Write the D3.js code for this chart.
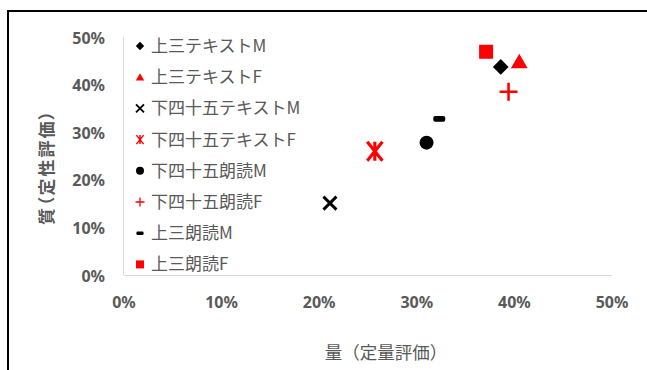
<!DOCTYPE html>
<html>
<head>
<meta charset="utf-8">
<script src="https://cdn.jsdelivr.net/npm/d3@7"></script>
<style>
  body { margin: 0; background: #fff; }
  text { font-family: "Noto Sans CJK JP", "Noto Sans", sans-serif; fill: #595959; }
</style>
</head>
<body>
<svg id="chart" width="647" height="370"></svg>
<script>
// series names (legend order)
var seriesNames = ["上三テキストM", "上三テキストF", "下四十五テキストM", "下四十五テキストF",
                   "下四十五朗読M", "下四十五朗読F", "上三朗読M", "上三朗読F"];
var seriesColors = ["#000000", "#ff0000", "#000000", "#ff0000", "#000000", "#ff0000", "#000000", "#ff0000"];
var seriesMarkers = ["diamond", "triangle", "x", "asterisk", "circle", "plus", "dash", "square"];
// quantity (x) and quality (y) values
var xValues = [0.386, 0.405, 0.211, 0.257, 0.310, 0.394, 0.323, 0.371];
var yValues = [0.437, 0.448, 0.151, 0.260, 0.278, 0.385, 0.328, 0.469];
var tickValues = [0, 0.1, 0.2, 0.3, 0.4, 0.5];

var svg = d3.select('#chart');

// outer frame (only top and left visible)
svg.append('rect').attr('x', 8).attr('y', 11).attr('width', 660).attr('height', 380)
  .attr('fill', 'none').attr('stroke', '#000').attr('stroke-width', 2);

var x = d3.scaleLinear().domain([0, 0.5]).range([124, 612]);
var y = d3.scaleLinear().domain([0, 0.5]).range([275, 37]);

// axis lines
svg.append('line').attr('x1', x(0)).attr('x2', x(0.5)).attr('y1', y(0) + 0.5).attr('y2', y(0) + 0.5)
  .attr('stroke', '#d9d9d9');
svg.append('line').attr('x1', x(0) - 0.5).attr('x2', x(0) - 0.5).attr('y1', y(0)).attr('y2', y(0.5))
  .attr('stroke', '#d9d9d9');

var fmt = d3.format('.0%');
svg.selectAll('.xt').data(tickValues).enter().append('text')
  .attr('class', 'xt')
  .attr('x', function(d) { return x(d); })
  .attr('y', 308)
  .attr('text-anchor', 'middle')
  .style('font-family', '"Noto Sans", sans-serif')
  .style('font-size', '16px').style('font-weight', 'bold')
  .text(fmt);
svg.selectAll('.yt').data(tickValues).enter().append('text')
  .attr('class', 'yt')
  .attr('x', 105)
  .attr('y', function(d) { return y(d) + 6.5; })
  .attr('text-anchor', 'end')
  .style('font-family', '"Noto Sans", sans-serif')
  .style('font-size', '16px').style('font-weight', 'bold')
  .text(fmt);

// axis titles
svg.append('text').attr('x', 386).attr('y', 359).attr('text-anchor', 'middle')
  .style('font-size', '17.5px').text('量（定量評価）');
svg.append('text').attr('transform', 'translate(53,167) rotate(-90)').attr('text-anchor', 'middle')
  .style('font-size', '17px').style('font-weight', 'bold').style('font-feature-settings', '"palt"')
  .style('letter-spacing', '2px')
  .text('質（定性評価）');

// marker drawing
function drawMarker(g, type, color, s) {
  var h = s / 2;
  if (type === 'diamond') {
    g.append('path').attr('d', d3.symbol().type(d3.symbolSquare).size(s * s * 0.55)).attr('transform', 'rotate(45)').attr('fill', color);
  } else if (type === 'triangle') {
    g.append('path').attr('d', 'M0,' + (-h) + 'L' + (h * 1.05) + ',' + (h * 0.8) + 'L' + (-h * 1.05) + ',' + (h * 0.8) + 'Z').attr('fill', color);
  } else if (type === 'circle') {
    g.append('circle').attr('r', h).attr('fill', color);
  } else if (type === 'square') {
    g.append('rect').attr('x', -h).attr('y', -h).attr('width', s).attr('height', s).attr('fill', color);
  } else if (type === 'x') {
    g.append('path').attr('d', 'M' + (-h) + ',' + (-h) + 'L' + h + ',' + h + 'M' + h + ',' + (-h) + 'L' + (-h) + ',' + h)
      .attr('stroke', color).attr('stroke-width', s / 4.5).attr('fill', 'none');
  } else if (type === 'asterisk') {
    g.append('path').attr('d', 'M' + (-h * 0.8) + ',' + (-h) + 'L' + (h * 0.8) + ',' + h + 'M' + (h * 0.8) + ',' + (-h) + 'L' + (-h * 0.8) + ',' + h + 'M0,' + (-h) + 'L0,' + h)
      .attr('stroke', color).attr('stroke-width', s / 6).attr('fill', 'none');
  } else if (type === 'plus') {
    g.append('path').attr('d', 'M' + (-h) + ',0L' + h + ',0M0,' + (-h) + 'L0,' + h)
      .attr('stroke', color).attr('stroke-width', s / 7).attr('fill', 'none');
  } else if (type === 'dash') {
    g.append('rect').attr('x', -h * 0.6).attr('y', -s / 7).attr('width', s * 0.6).attr('height', s / 3.5)
      .attr('rx', s / 10).attr('fill', color);
  }
}

var plotSizes = { diamond: 15, triangle: 16, x: 13, asterisk: 19, circle: 14, plus: 18, dash: 20, square: 14 };

seriesNames.forEach(function(name, i) {
  var g = svg.append('g').attr('transform', 'translate(' + x(xValues[i]) + ',' + y(yValues[i]) + ')');
  drawMarker(g, seriesMarkers[i], seriesColors[i], plotSizes[seriesMarkers[i]]);
});

// legend
var legendSizes = { diamond: 8, triangle: 8, x: 8, asterisk: 9, circle: 8, plus: 9, dash: 12, square: 8 };
seriesNames.forEach(function(name, i) {
  var ly = 46 + i * 31.2;
  var g = svg.append('g').attr('transform', 'translate(140,' + ly + ')');
  drawMarker(g, seriesMarkers[i], seriesColors[i], legendSizes[seriesMarkers[i]]);
  svg.append('text').attr('x', 151).attr('y', ly + 6).style('font-size', '17px').text(name);
});
</script>
</body>
</html>
